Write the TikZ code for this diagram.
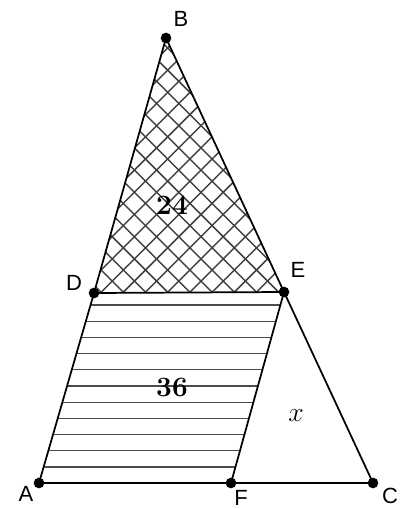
\documentclass[tikz,border=0pt]{standalone}
\usepackage{fontspec}
\newfontfamily\labfont{Liberation Sans}
\begin{document}
\begin{tikzpicture}[x=0.75pt,y=-0.75pt,
  edge/.style={line width=1.3pt,black},
  hatch/.style={line width=1.1pt,black!75},
  hline/.style={line width=0.85pt,black!70},
  dot/.style={circle,fill=black,inner sep=0pt,minimum size=8pt},
  lab/.style={font=\labfont\fontsize{16.5}{18}\selectfont,inner sep=0pt},
  num/.style={font=\fontsize{21}{24}\selectfont\bfseries,inner sep=0pt}]
\useasboundingbox (0,0) rectangle (403,509);
\coordinate (B) at (166,38);
\coordinate (D) at (94,293);
\coordinate (E) at (284,292);
\coordinate (A) at (39,483);
\coordinate (F) at (231,483);
\coordinate (C) at (373,483);
% crosshatch in triangle BDE
\begin{scope}
\clip (B) -- (D) -- (E) -- cycle;
\foreach \k in {-6,...,12} {
  \draw[hatch] ({-102.3+22.2*\k+20},20) -- ({-102.3+22.2*\k+310},310);
}
\foreach \k in {-12,...,8} {
  \draw[hatch] ({437.7+22.2*\k-20},20) -- ({437.7+22.2*\k-310},310);
}
\end{scope}
% horizontal lines in DEFA
\begin{scope}
\clip (D) -- (E) -- (F) -- (A) -- cycle;
\foreach \k in {0,...,10} {
  \draw[hline] (0,{305+16.2*\k}) -- (403,{305+16.2*\k});
}
\end{scope}
% outline
\draw[edge] (B) -- (D) -- (A) -- (C) -- (E) -- cycle;
\draw[edge] (D) -- (E) -- (F);
% dots
\foreach \p in {B,D,E,A,F,C} { \node[dot] at (\p) {}; }
% labels
\node[lab] (lB) at (181,19) {B};
\node[lab] (lD) at (74,283) {D};
\node[lab] (lE) at (298,270) {E};
\node[lab] (lA) at (26,494) {A};
\node[lab] (lF) at (241,498) {F};
\node[lab] (lC) at (390,496) {C};
\node[num] (n24) at (172,205) {24};
\node[num] (n36) at (172,387) {36};
\node[font=\fontsize{20}{22}\selectfont,inner sep=0pt] (nx) at (296,416) {$x$};
\end{tikzpicture}
\end{document}
